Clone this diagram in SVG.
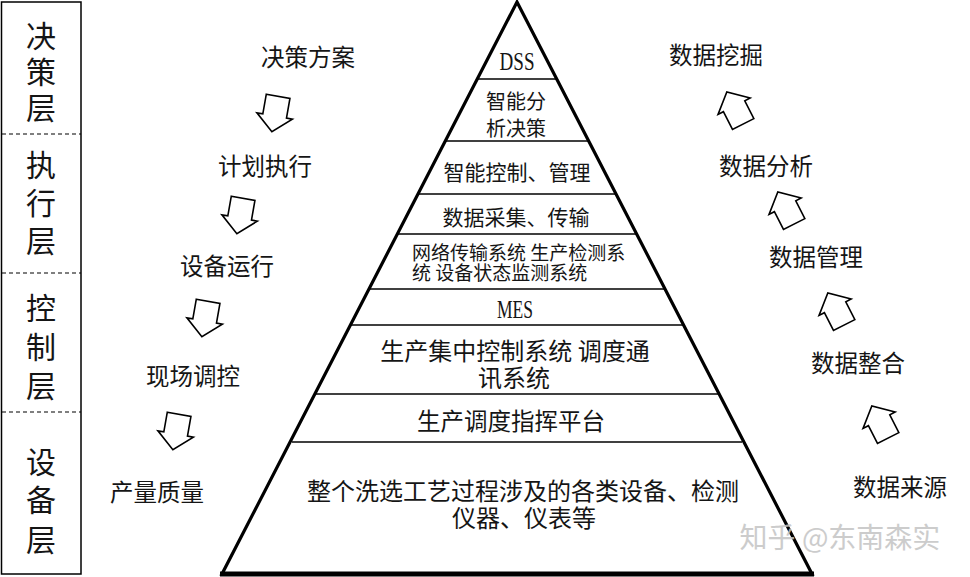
<svg xmlns="http://www.w3.org/2000/svg" xmlns:xlink="http://www.w3.org/1999/xlink" width="970" height="577" viewBox="0 0 970 577">
<style>
  .cn{font-family:"Noto Sans CJK SC","Noto Sans",sans-serif;fill:#151515;text-anchor:middle}
  .lat{font-family:"Liberation Serif",serif;fill:#151515;text-anchor:middle}
  .layer{font-size:30px}
  .lbl{font-size:23.5px}
  .thin{stroke:#000;stroke-width:1.5;fill:none}
  .arr{fill:#fff;stroke:#000;stroke-width:1.6;stroke-linejoin:miter}
  .wm{font-family:"Noto Sans CJK SC",sans-serif;font-size:28px;fill:#c4c4c4;text-anchor:middle}
</style>
<defs>
  <path id="blk" d="M-12,-18 L12,-18 L12,2 L18,2 L0,18 L-18,2 L-12,2 Z"/>
</defs>
<rect width="970" height="577" fill="#fff"/>

<g id="layer-box">
  <rect x="1.5" y="2" width="79.5" height="572" class="thin"/>
  <g stroke="#000" stroke-width="1.2" stroke-dasharray="4,3">
    <line x1="2" y1="134" x2="81" y2="134"/>
    <line x1="2" y1="273" x2="81" y2="273"/>
    <line x1="2" y1="412" x2="81" y2="412"/>
  </g>
</g>
<g id="layer-decision" class="cn layer">
  <text x="41" y="47">决</text><text x="41" y="83">策</text><text x="41" y="119">层</text>
</g>
<g id="layer-execution" class="cn layer">
  <text x="41" y="176">执</text><text x="41" y="214">行</text><text x="41" y="252">层</text>
</g>
<g id="layer-control" class="cn layer">
  <text x="41" y="319">控</text><text x="41" y="358">制</text><text x="41" y="397">层</text>
</g>
<g id="layer-device" class="cn layer">
  <text x="41" y="473">设</text><text x="41" y="511">备</text><text x="41" y="551">层</text>
</g>

<g id="left-flow" class="cn lbl">
  <g id="n-jcfa"><text x="308" y="66">决策方案</text></g>
  <g id="n-jhzx"><text x="265" y="175">计划执行</text></g>
  <g id="n-sbyx"><text x="227" y="275">设备运行</text></g>
  <g id="n-xctk"><text x="193" y="385">现场调控</text></g>
  <g id="n-clzl"><text x="157" y="501">产量质量</text></g>
</g>
<g id="right-flow" class="cn lbl">
  <g id="n-sjwj"><text x="716" y="64">数据挖掘</text></g>
  <g id="n-sjfx"><text x="766" y="175">数据分析</text></g>
  <g id="n-sjgl"><text x="816" y="266">数据管理</text></g>
  <g id="n-sjzh"><text x="858" y="372">数据整合</text></g>
  <g id="n-sjly"><text x="900" y="496">数据来源</text></g>
</g>

<g id="connectors">
  <use xlink:href="#blk" href="#blk" class="arr" transform="translate(275,114) rotate(10)"/>
  <use xlink:href="#blk" href="#blk" class="arr" transform="translate(240,216) rotate(10)"/>
  <use xlink:href="#blk" href="#blk" class="arr" transform="translate(205,319) rotate(10)"/>
  <use xlink:href="#blk" href="#blk" class="arr" transform="translate(176,432) rotate(10)"/>
  <use xlink:href="#blk" href="#blk" class="arr" transform="translate(735,108) rotate(153)"/>
  <use xlink:href="#blk" href="#blk" class="arr" transform="translate(786,208) rotate(153)"/>
  <use xlink:href="#blk" href="#blk" class="arr" transform="translate(836,309) rotate(153)"/>
  <use xlink:href="#blk" href="#blk" class="arr" transform="translate(880,422) rotate(153)"/>
</g>

<g id="pyramid">
  <polygon points="517,2 812,574 222,574" fill="#fff" stroke="#000" stroke-width="3.2" stroke-linejoin="miter"/>
  <line x1="220" y1="574" x2="814" y2="574" stroke="#000" stroke-width="5"/>
  <g stroke="#000" stroke-width="1.5">
    <line x1="477.3" y1="79" x2="556.7" y2="79"/>
    <line x1="445.3" y1="141" x2="588.7" y2="141"/>
    <line x1="418" y1="194" x2="616" y2="194"/>
    <line x1="397.4" y1="234" x2="636.6" y2="234"/>
    <line x1="369" y1="289" x2="665" y2="289"/>
    <line x1="350.4" y1="325" x2="683.6" y2="325"/>
    <line x1="314.8" y1="394" x2="719.2" y2="394"/>
    <line x1="292" y1="442" x2="742" y2="442"/>
  </g>
</g>
<g id="p-dss"><text class="lat" x="517" y="70" font-size="25" textLength="35" lengthAdjust="spacingAndGlyphs">DSS</text></g>
<g id="p-znfxjc"><text class="cn" font-size="20" x="516" y="108.5">智能分<tspan x="516" dy="27">析决策</tspan></text></g>
<g id="p-znkz"><text class="cn" font-size="21" x="517" y="180">智能控制、管理</text></g>
<g id="p-sjcj"><text class="cn" font-size="21" x="516" y="225">数据采集、传输</text></g>
<g id="p-wlcs"><text class="cn" font-size="19" x="412" y="260" style="text-anchor:start">网络传输系统 生产检测系<tspan x="412" dy="20">统 设备状态监测系统</tspan></text></g>
<g id="p-mes"><text class="lat" x="515" y="318" font-size="25" textLength="36" lengthAdjust="spacingAndGlyphs">MES</text></g>
<g id="p-sczj"><text class="cn" font-size="24" x="515" y="360">生产集中控制系统 调度通<tspan x="514" dy="27">讯系统</tspan></text></g>
<g id="p-scdd"><text class="cn" font-size="23.5" x="511" y="430">生产调度指挥平台</text></g>
<g id="p-device"><text class="cn" font-size="24" x="523" y="500">整个洗选工艺过程涉及的各类设备、检测<tspan x="524" dy="27">仪器、仪表等</tspan></text></g>

<text class="wm" x="840" y="548" opacity="0.85">知乎 @东南森实</text>
</svg>
